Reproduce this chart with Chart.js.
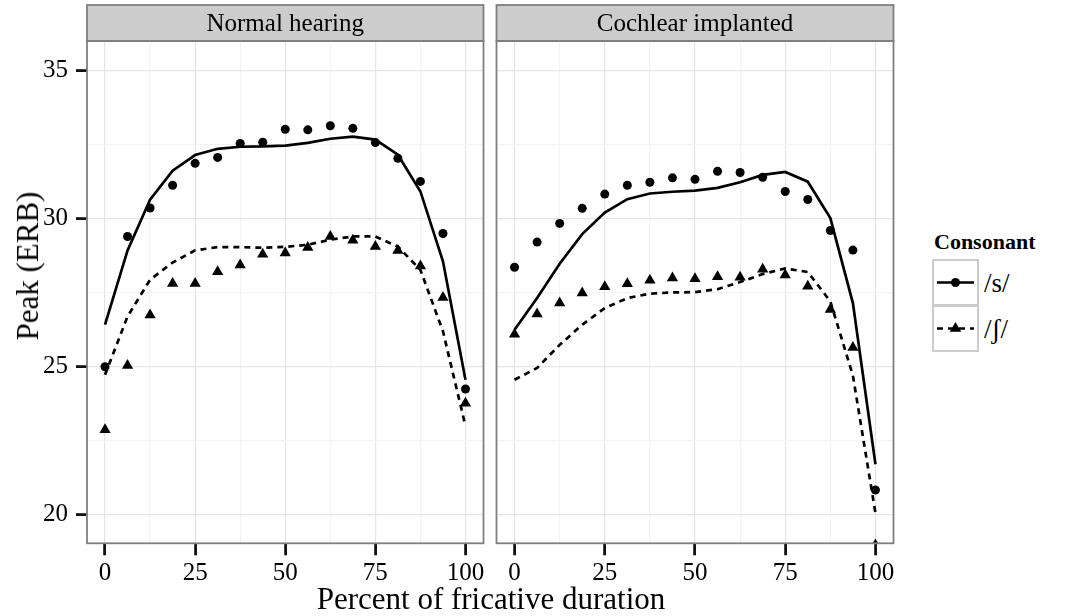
<!DOCTYPE html>
<html>
<head>
<meta charset="utf-8">
<script src="https://cdn.jsdelivr.net/npm/chart.js@4"></script>
<style>
  body { margin: 0; background: #fff; font-family: "Liberation Serif", "DejaVu Serif", serif; }
  #wrap { position: relative; width: 1065px; height: 616px; }
  canvas { position: absolute; top: 0; }
  .title { position: absolute; color: #000; white-space: nowrap; }
  #xTitle { left: 491px; top: 599px; font-size: 31px; transform: translate(-50%, -50%); }
  #yTitle { left: 28px; top: 266px; font-size: 31px; transform: translate(-50%, -50%) rotate(-90deg); }
  #legend { position: absolute; left: 932px; top: 228px; }
  #legend .head { font-weight: bold; font-size: 22px; margin-left: 2px; height: 32px; line-height: 28px; }
  #legend .row { display: flex; align-items: center; height: 46px; }
  #legend .key { width: 43px; height: 43px; border: 2px solid #ccc; margin-top: -2px; background: #fff; }
  #legend .lab { font-size: 27px; margin-left: 5px; }
</style>
</head>
<body>
<div id="wrap">
  <canvas id="nh" width="490" height="616" style="left:0;width:490px;height:616px"></canvas>
  <canvas id="ci" width="410" height="616" style="left:490px;width:410px;height:616px"></canvas>
  <div class="title" id="xTitle">Percent of fricative duration</div>
  <div class="title" id="yTitle">Peak (ERB)</div>
  <div id="legend">
    <div class="head">Consonant</div>
    <div class="row">
      <svg class="key" viewBox="0 0 43 43"><line x1="3" y1="21.5" x2="40" y2="21.5" stroke="#000" stroke-width="2.7"/><circle cx="21.5" cy="21.5" r="4.5" fill="#000"/></svg>
      <span class="lab">/s/</span>
    </div>
    <div class="row">
      <svg class="key" viewBox="0 0 43 43"><line x1="3" y1="21.5" x2="40" y2="21.5" stroke="#000" stroke-width="2.7" stroke-dasharray="6 5"/><polygon points="21.5,15 27.2,24.8 15.8,24.8" fill="#000"/></svg>
      <span class="lab">/ʃ/</span>
    </div>
  </div>
</div>
<script>
const serif = '"Liberation Serif", "DejaVu Serif", serif';
const gridMajor = '#E5E5E5';
const gridMinor = '#F3F3F3';
const frameColor = '#7F7F7F';

// percent of fricative duration (x positions of the measurements)
const pct = [0, 6.25, 12.5, 18.75, 25, 31.25, 37.5, 43.75, 50, 56.25, 62.5, 68.75, 75, 81.25, 87.5, 93.75, 100];

// Normal hearing
const nhDotsS = [25.0, 29.4, 30.36, 31.13, 31.87, 32.07, 32.54, 32.58, 33.02, 33.0, 33.14, 33.05, 32.57, 32.04, 31.26, 29.5, 24.25];
const nhDotsSh = [22.87, 25.04, 26.75, 27.81, 27.81, 28.21, 28.44, 28.8, 28.84, 29.03, 29.4, 29.27, 29.06, 28.93, 28.4, 27.34, 23.77];
const nhFitS = [26.42, 28.93, 30.64, 31.62, 32.15, 32.36, 32.43, 32.44, 32.47, 32.56, 32.7, 32.77, 32.67, 32.16, 30.92, 28.56, 24.56];
const nhFitSh = [24.73, 26.7, 27.94, 28.52, 28.93, 29.04, 29.04, 29.02, 29.05, 29.12, 29.29, 29.4, 29.4, 29.06, 28.27, 26.2, 23.0];

// Cochlear implanted
const ciDotsS = [28.36, 29.21, 29.84, 30.35, 30.83, 31.13, 31.23, 31.38, 31.33, 31.6, 31.56, 31.4, 30.92, 30.65, 29.6, 28.94, 20.84];
const ciDotsSh = [26.1, 26.78, 27.15, 27.49, 27.7, 27.8, 27.92, 28.0, 27.97, 28.04, 28.02, 28.29, 28.1, 27.72, 26.93, 25.65, 18.98];
const ciFitS = [26.25, 27.32, 28.48, 29.48, 30.21, 30.66, 30.85, 30.91, 30.95, 31.04, 31.23, 31.48, 31.58, 31.25, 30.02, 27.15, 21.71];
const ciFitSh = [24.56, 24.96, 25.74, 26.42, 26.98, 27.32, 27.47, 27.51, 27.52, 27.62, 27.86, 28.13, 28.32, 28.2, 27.21, 24.7, 20.06];

const xTicks = [0, 12.5, 25, 37.5, 50, 62.5, 75, 87.5, 100];
const yTicks = [20, 22.5, 25, 27.5, 30, 32.5, 35];

const toXY = arr => arr.map((v, i) => ({ x: pct[i], y: v }));

// strip header + panel border, like facet_wrap in theme_bw
const facetPlugin = {
  id: 'facet',
  beforeDraw(chart, args, opts) {
    const { ctx, chartArea: a } = chart;
    ctx.save();
    ctx.fillStyle = '#CCCCCC';
    ctx.fillRect(a.left, 5, a.right - a.left, a.top - 5);
    ctx.strokeStyle = frameColor;
    ctx.lineWidth = 1.8;
    ctx.strokeRect(a.left, 5, a.right - a.left, a.top - 5);
    ctx.fillStyle = '#000';
    ctx.font = '25px ' + serif;
    ctx.textAlign = 'center';
    ctx.textBaseline = 'middle';
    ctx.fillText(opts.label, (a.left + a.right) / 2, (a.top + 5) / 2 + 1);
    ctx.restore();
  },
  afterDraw(chart) {
    const { ctx, chartArea: a } = chart;
    ctx.save();
    ctx.strokeStyle = frameColor;
    ctx.lineWidth = 1.8;
    ctx.strokeRect(a.left, a.top, a.right - a.left, a.bottom - a.top);
    ctx.restore();
  }
};

function makePanel(canvas, label, dotsS, dotsSh, fitS, fitSh, isLeft, yWidth, padRight) {
  return new Chart(canvas, {
    type: 'scatter',
    data: {
      datasets: [
        { data: toXY(fitS), showLine: true, borderColor: '#000', borderWidth: 2.7, pointRadius: 0, tension: 0 },
        { data: toXY(fitSh), showLine: true, borderColor: '#000', borderWidth: 2.7, borderDash: [6, 5], pointRadius: 0, tension: 0 },
        { data: toXY(dotsS), pointStyle: 'circle', pointRadius: 4.5, pointBackgroundColor: '#000', pointBorderWidth: 0 },
        { data: toXY(dotsSh), pointStyle: 'triangle', pointRadius: 6.5, pointBackgroundColor: '#000', pointBorderWidth: 0 }
      ]
    },
    options: {
      responsive: false,
      animation: false,
      events: [],
      layout: { padding: { top: 41, right: padRight, left: 0, bottom: 0 } },
      plugins: {
        legend: { display: false },
        tooltip: { enabled: false },
        facet: { label: label }
      },
      scales: {
        x: {
          type: 'linear',
          min: -5,
          max: 105,
          afterBuildTicks: s => { s.ticks = xTicks.map(v => ({ value: v })); },
          afterFit: s => { s.height = 72.7; },
          border: { display: false },
          grid: {
            color: c => c.tick && c.tick.value % 25 === 0 ? gridMajor : gridMinor,
            lineWidth: 1.2,
            tickLength: 12,
            tickWidth: 2.8,
            tickColor: c => c.tick && c.tick.value % 25 === 0 ? '#111' : 'rgba(0,0,0,0)'
          },
          ticks: {
            autoSkip: false,
            maxRotation: 0,
            padding: 3,
            color: '#000',
            font: { family: serif, size: 25 },
            callback: v => v % 25 === 0 ? String(v) : ''
          }
        },
        y: {
          min: 19.04,
          max: 36.0,
          afterBuildTicks: s => { s.ticks = yTicks.map(v => ({ value: v })); },
          afterFit: s => { s.width = yWidth; },
          border: { display: false },
          grid: {
            color: c => c.tick && c.tick.value % 5 === 0 ? gridMajor : gridMinor,
            lineWidth: 1.2,
            drawTicks: isLeft,
            tickLength: 11,
            tickWidth: 2.8,
            tickColor: c => c.tick && c.tick.value % 5 === 0 ? '#111' : 'rgba(0,0,0,0)'
          },
          ticks: {
            display: isLeft,
            autoSkip: false,
            padding: 8,
            color: '#000',
            font: { family: serif, size: 25 },
            callback: v => v % 5 === 0 ? String(v) : ''
          }
        }
      }
    },
    plugins: [facetPlugin]
  });
}

makePanel(document.getElementById('nh'), 'Normal hearing', nhDotsS, nhDotsSh, nhFitS, nhFitSh, true, 87, 4.3);
makePanel(document.getElementById('ci'), 'Cochlear implanted', ciDotsS, ciDotsSh, ciFitS, ciFitSh, false, 5.7, 5.3);
</script>
</body>
</html>
